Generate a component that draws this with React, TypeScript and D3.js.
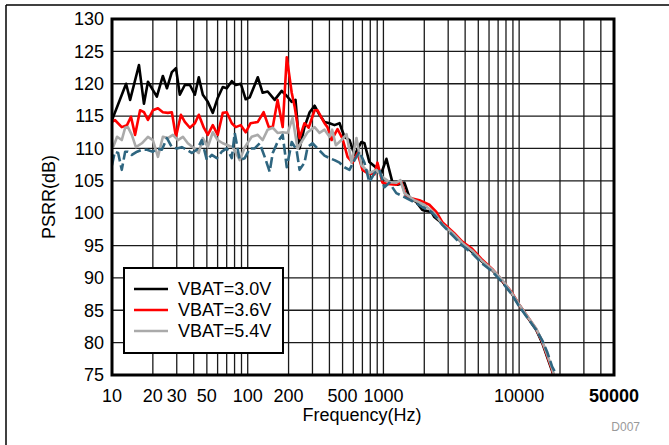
import * as d3 from 'd3';

const W = 669;
const H = 445;
const M = { left: 112, top: 19, right: 614, bottom: 375 };

// low-frequency (noisy) part of each trace
const BLACK_F = [10, 12.7, 13.6, 15.8, 17.2, 18.4, 21.4, 23.7, 25.4, 27.6, 29.6, 31.6, 34.4, 37.5, 40.8, 43.6, 46.7, 50.8, 55.3, 60.1, 65.5, 70.1, 76.3, 81.6, 88.9, 96.6, 103.5, 118.6, 128.9, 140.3, 158, 178, 194, 211, 225, 241, 262, 286, 311, 338, 368, 401, 436, 475, 516, 562, 612, 689, 725, 788, 889, 966, 1052, 1164, 1267, 1427, 1552, 1749, 1936, 2255, 2372];
const BLACK_V = [114.4, 120.0, 117.5, 122.9, 116.9, 120.3, 118.0, 121.2, 119.3, 121.8, 122.4, 118.3, 119.8, 119.8, 118.3, 121.0, 118.3, 117.2, 115.5, 117.8, 119.5, 119.3, 120.4, 119.8, 120.0, 117.6, 117.9, 121.0, 118.6, 118.8, 117.5, 118.9, 118.1, 117.2, 117.5, 110.0, 113.3, 115.6, 116.6, 115.2, 114.1, 113.9, 113.6, 113.9, 111.8, 111.3, 109.0, 111.0, 110.8, 107.9, 107.0, 106.2, 108.4, 104.8, 104.4, 104.7, 102.5, 101.7, 100.5, 100.2, 99.4];

const RED_F = [10, 10.5, 11.8, 12.9, 13.8, 14.8, 16.1, 17.2, 18.4, 20.0, 21.8, 23.7, 25.8, 27.6, 29.6, 32.2, 34.4, 37.5, 40.8, 43.6, 47.5, 50.8, 55.3, 60.1, 65.5, 70.1, 76.3, 81.6, 88.9, 96.6, 105, 118.6, 131, 143, 153, 166, 181, 194, 211, 222, 241, 262, 281, 311, 327, 368, 387, 415, 459, 500, 544, 592, 644, 701, 763, 859, 904, 984, 1070, 1247, 1357, 1476, 1840, 2180, 2453];
const RED_V = [114.1, 114.4, 113.3, 113.6, 114.9, 112.1, 115.9, 115.6, 114.4, 115.9, 116.2, 115.6, 115.5, 115.6, 111.8, 115.2, 114.1, 113.2, 113.9, 115.2, 113.2, 112.1, 113.6, 112.1, 115.5, 115.6, 113.9, 113.3, 113.6, 112.5, 113.9, 114.1, 115.6, 113.3, 113.3, 117.5, 113.3, 124.1, 118.6, 116.4, 111.6, 113.9, 113.2, 115.9, 115.9, 113.9, 113.3, 111.3, 113.0, 111.5, 108.7, 107.8, 109.3, 106.7, 106.2, 106.0, 107.8, 104.7, 104.5, 104.4, 104.8, 102.5, 102.0, 101.3, 100.2];

const GRAY_F = [10.2, 10.9, 11.8, 12.5, 13.1, 14.0, 15.0, 16.6, 18.4, 20.0, 21.8, 23.7, 25.8, 28.1, 30.6, 33.3, 36.2, 39.4, 43.6, 46.7, 50.8, 55.3, 60.1, 65.5, 71.3, 77.6, 87.3, 95.1, 107, 118.6, 128.9, 140.3, 153, 166, 181, 197, 214, 233, 254, 276, 311, 338, 368, 401, 419, 446, 491, 535, 582, 633, 689, 788, 889, 984, 1107, 1247, 1334, 1427, 1690, 2000, 2372];
const GRAY_V = [110.2, 111.8, 111.3, 113.2, 113.3, 112.1, 110.2, 110.8, 111.8, 111.3, 108.7, 111.8, 111.6, 112.1, 111.3, 111.8, 110.8, 110.2, 109.3, 111.6, 110.2, 112.5, 111.3, 110.8, 110.5, 110.2, 108.2, 110.2, 111.8, 112.1, 111.3, 112.9, 113.2, 112.4, 112.5, 112.4, 114.7, 110.0, 111.3, 112.5, 113.3, 112.4, 112.9, 111.8, 112.9, 110.5, 111.3, 112.2, 107.8, 111.6, 107.4, 106.2, 106.7, 105.6, 104.8, 104.7, 105.1, 103.1, 102.0, 101.3, 100.0];

const TEAL_F = [10, 10.5, 11.1, 11.8, 12.5, 13.1, 14.0, 15.3, 16.6, 18.1, 20.0, 21.4, 23.3, 25.4, 27.6, 30.0, 32.7, 35.6, 38.7, 42.2, 45.9, 50.0, 54.4, 59.2, 64.4, 70.1, 76.3, 80.2, 87.3, 95.1, 103.5, 112.6, 122.5, 133.4, 145.2, 152.9, 166, 181, 194, 211, 229, 241, 262, 276, 300, 368, 401, 436, 475, 516, 562, 612, 666, 725, 788, 859, 935, 1017, 1105, 1244, 1427, 1688, 2000, 2255, 2450];
const TEAL_V = [107.4, 109.5, 109.3, 106.7, 109.5, 109.5, 109.0, 109.5, 109.8, 109.8, 109.5, 110.0, 109.8, 111.6, 110.2, 110.0, 110.2, 109.8, 109.3, 109.8, 111.3, 108.2, 109.0, 108.5, 109.5, 110.0, 108.5, 112.4, 108.2, 108.5, 110.0, 110.0, 110.8, 108.7, 106.4, 109.3, 111.0, 112.1, 107.1, 111.0, 109.8, 106.7, 107.8, 110.2, 110.8, 108.9, 108.5, 108.2, 107.8, 107.1, 106.7, 108.2, 109.5, 107.8, 104.8, 106.2, 106.7, 104.0, 104.7, 103.1, 102.5, 101.7, 100.8, 100.2, 99.4];

// high-frequency roll-off, where the traces run together
const HF_F = [2716, 3327, 3808, 4511, 5345, 6325, 7374, 8734, 10000, 11455, 13340, 14760, 16070, 17500, 18300];
const TEAL_HF_F = [2716, 3327, 3808, 4511, 5345, 6325, 7374, 8734, 10000, 11455, 13340, 14760, 16070, 17500, 19360];
const BLACK_HF = [98.4, 96.6, 95.4, 94.0, 92.5, 91.2, 89.7, 87.7, 85.8, 84.0, 82.0, 80.0, 77.8, 75.6, 74.2];
const RED_HF = [98.6, 96.9, 95.6, 94.5, 92.8, 91.4, 89.8, 87.9, 85.9, 84.1, 82.1, 80.2, 78.0, 75.8, 74.3];
const GRAY_HF = [98.3, 96.7, 95.4, 94.2, 92.6, 91.3, 89.9, 87.8, 85.9, 84.1, 82.2, 80.3, 78.2, 76.0, 74.6];
const TEAL_HF = [98.2, 96.3, 95.0, 93.8, 92.2, 91.0, 89.5, 87.6, 85.6, 83.9, 82.0, 80.4, 78.6, 76.3, 74.6];

const Y_TICKS = [75, 80, 85, 90, 95, 100, 105, 110, 115, 120, 125, 130];
const X_LABELS = [10, 20, 30, 50, 100, 200, 500, 1000, 10000, 50000];
const LEGEND = ['VBAT=3.0V', 'VBAT=3.6V', 'VBAT=5.4V'];

const FONT = '"Liberation Sans", Arial, sans-serif';

type Pt = [number, number];
const zip = (f: number[], v: number[]): Pt[] => f.map((x, i) => [x, v[i]]);

const series = [
  { pts: zip(BLACK_F, BLACK_V).concat(zip(HF_F, BLACK_HF)), color: '#000000', dash: undefined },
  { pts: zip(RED_F, RED_V).concat(zip(HF_F, RED_HF)), color: '#ff0000', dash: undefined },
  { pts: zip(GRAY_F, GRAY_V).concat(zip(HF_F, GRAY_HF)), color: '#aaaaaa', dash: undefined },
  { pts: zip(TEAL_F, TEAL_V).concat(zip(TEAL_HF_F, TEAL_HF)), color: '#2f6680', dash: '11,4' },
];

export default function App() {
  const x = d3.scaleLog().domain([10, 50000]).range([M.left, M.right]);
  const y = d3.scaleLinear().domain([75, 130]).range([M.bottom, M.top]);

  const line = d3
    .line<Pt>()
    .x((d) => x(d[0]))
    .y((d) => y(d[1]));

  // minor grid: 1..9 of every decade
  const vGrid: number[] = [];
  for (let dec = 10; dec <= 10000; dec *= 10) {
    for (let k = 1; k <= 9; k++) {
      const f = dec * k;
      if (f <= 50000) vGrid.push(f);
    }
  }

  return (
    <svg
      width={W}
      height={H}
      style={{ position: 'absolute', left: 0, top: 0, background: '#fff' }}
      fontFamily={FONT}
    >
      <defs>
        <clipPath id="plot">
          <rect x={M.left} y={M.top} width={M.right - M.left} height={M.bottom - M.top} />
        </clipPath>
      </defs>

      {/* outer frame */}
      <line x1={6} y1={5} x2={W} y2={5} stroke="#000" strokeWidth={1.5} />
      <line x1={6} y1={5} x2={6} y2={H} stroke="#000" strokeWidth={1.5} />

      {/* grid */}
      <g stroke="#1a1a1a" strokeWidth={1.3}>
        {vGrid.map((f) => (
          <line key={'v' + f} x1={x(f)} x2={x(f)} y1={M.top} y2={M.bottom} />
        ))}
        {Y_TICKS.map((t) => (
          <line key={'h' + t} x1={M.left} x2={M.right} y1={y(t)} y2={y(t)} />
        ))}
      </g>

      {/* traces */}
      <g clipPath="url(#plot)" fill="none" strokeWidth={2.6} strokeLinejoin="round">
        {series.map((s, i) => (
          <path key={i} d={line(s.pts) ?? ''} stroke={s.color} strokeDasharray={s.dash} />
        ))}
      </g>

      {/* plot border */}
      <rect
        x={M.left}
        y={M.top}
        width={M.right - M.left}
        height={M.bottom - M.top}
        fill="none"
        stroke="#000"
        strokeWidth={3}
      />

      {/* y ticks */}
      <g fontSize={18} textAnchor="end" fill="#000">
        {Y_TICKS.map((t) => (
          <text key={t} x={104} y={y(t)} dy="0.35em">
            {t}
          </text>
        ))}
      </g>

      {/* x ticks */}
      <g fontSize={18} textAnchor="middle" fill="#000">
        {X_LABELS.map((t) => (
          <text key={t} x={x(t)} y={402} fontWeight={t === 50000 ? 'bold' : 'normal'}>
            {t}
          </text>
        ))}
      </g>

      <text x={362} y={421} fontSize={18} textAnchor="middle">
        Frequency(Hz)
      </text>
      <text
        transform={`translate(55,${(M.top + M.bottom) / 2}) rotate(-90)`}
        fontSize={18}
        textAnchor="middle"
      >
        PSRR(dB)
      </text>
      <text x={640} y={431} fontSize={12} textAnchor="end" fill="#999">
        D007
      </text>

      {/* legend */}
      <g>
        <rect x={124} y={268} width={159} height={85} fill="#fff" stroke="#000" strokeWidth={2} />
        {LEGEND.map((label, i) => {
          const ly = 289 + i * 21;
          return (
            <g key={label}>
              <line x1={134} x2={168} y1={ly} y2={ly} stroke={series[i].color} strokeWidth={2.6} />
              <text x={178} y={ly} dy="0.35em" fontSize={18}>
                {label}
              </text>
            </g>
          );
        })}
      </g>
    </svg>
  );
}
